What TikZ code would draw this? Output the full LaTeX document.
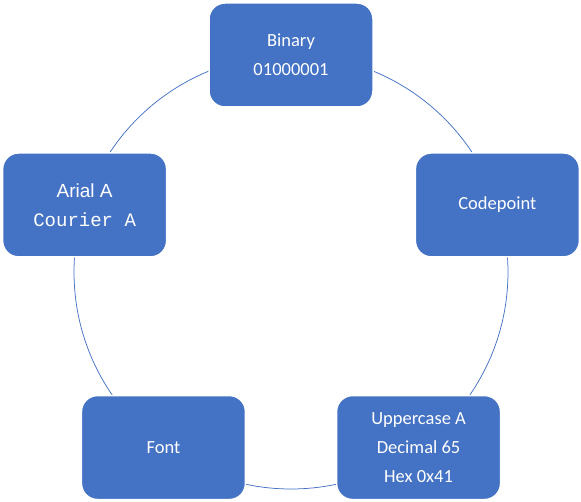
\documentclass[tikz,border=0pt]{standalone}
\usepackage{fontspec}
\setmainfont{Carlito}
\newfontfamily\arialfont{Liberation Sans}
\newfontfamily\courierfont{Liberation Mono}
\usetikzlibrary{calc}
\definecolor{cycleblue}{HTML}{4472C4}
\tikzset{
  cyclebox/.style={draw=white, line width=1.5pt, fill=cycleblue, rounded corners=16pt,
    minimum width=164pt, minimum height=104pt, inner sep=0pt, text=white, align=center,
    font=\fontsize{18.5}{29}\selectfont},
  cycleline/.style={draw=cycleblue, line width=0.75pt}
}

\begin{document}
\begin{tikzpicture}
		%%%%% START %%%%%
		\useasboundingbox (0,0) rectangle (581pt,-502pt);
		\coordinate (center) at (291pt,-272pt);
		
		\draw[cycleline] (center) circle (217pt);
		
		\node[cyclebox] (binary) at ($(center)+(90:217pt)$) {Binary\\01000001};
		\node[cyclebox] (codepoint) at ($(center)+(18:217pt)$) {Codepoint};
		\node[cyclebox] (upper) at ($(center)+(-54:217pt)$) {Uppercase A\\Decimal 65\\Hex 0x41};
		\node[cyclebox] (font) at ($(center)+(-126:217pt)$) {Font};
		\node[cyclebox, font=\fontsize{19}{29}\selectfont] (arial) at ($(center)+(162:217pt)$)
			{{\arialfont Arial A}\\{\courierfont Courier A}};
		%%%%% END %%%%%
\end{tikzpicture}
\end{document}
